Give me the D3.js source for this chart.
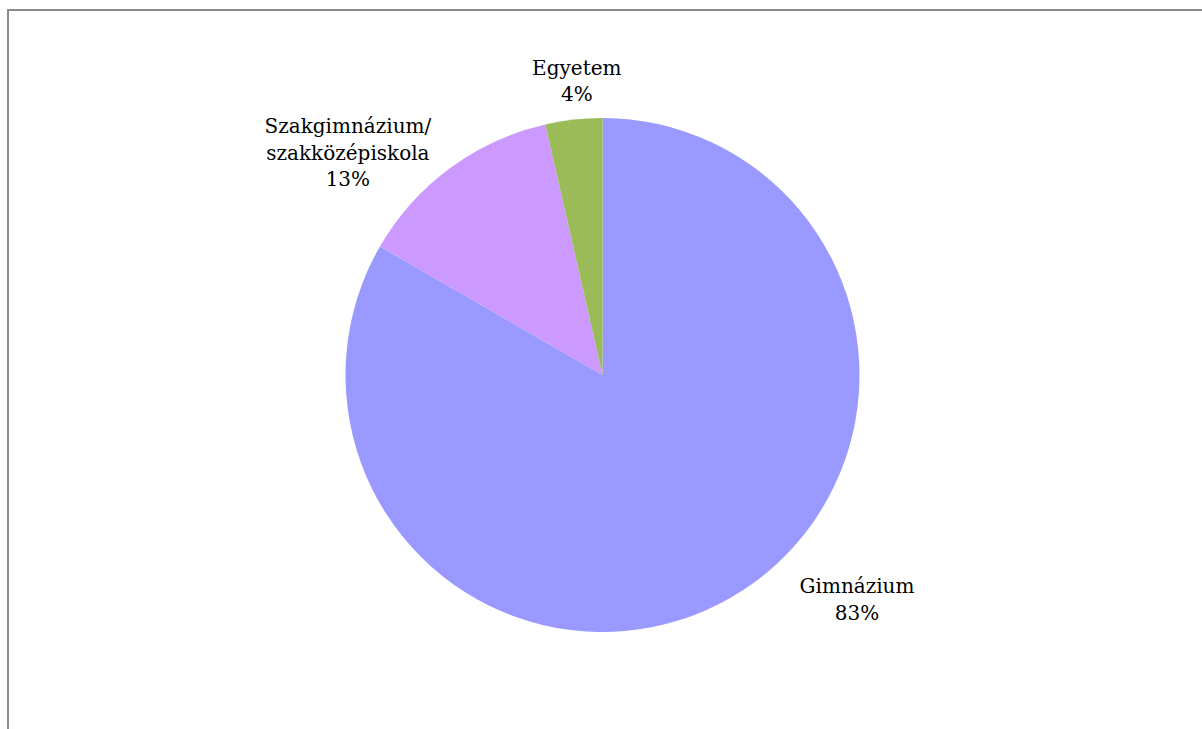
<!DOCTYPE html>
<html>
<head>
<meta charset="utf-8">
<script src="https://cdn.jsdelivr.net/npm/d3@7"></script>
<style>
  body { margin: 0; background: #fff; }
</style>
</head>
<body>
<div id="chart"></div>
<script>
// data: school type of respondents (counts)
const categories = ["Gimnázium", "Szakgimnázium/szakközépiskola", "Egyetem"];
const counts = [70, 11, 3];
const colors = ["#9999FF", "#CC99FF", "#9BBB59"];

const width = 1202, height = 729;
const cx = 602.5, cy = 375, radius = 257;
// label placement: point on mid angle at labelRadius, then nudge (center x, first baseline)
const labelRadius = 300;
const labelNudge = [[104.5, -41.8], [-76.5, -0.5], [7.9, -1.9]];
const lineStep = 26.5;

const svg = d3.select("#chart").append("svg")
    .attr("width", width)
    .attr("height", height);

// frame (only top and left edges are visible in the shot)
svg.append("rect")
    .attr("x", 8).attr("y", 10)
    .attr("width", width + 20).attr("height", height + 20)
    .attr("fill", "none")
    .attr("stroke", "#8a8a8a")
    .attr("stroke-width", 2);

const total = d3.sum(counts);
const pie = d3.pie().sort(null).value(d => d.value);
const arcs = pie(categories.map((c, i) => ({name: c, value: counts[i], color: colors[i], i: i})));

const arc = d3.arc().innerRadius(0).outerRadius(radius);

const g = svg.append("g").attr("transform", "translate(" + cx + "," + cy + ")");

g.selectAll(".slice")
    .data(arcs)
    .enter().append("path")
    .attr("class", "slice")
    .attr("d", arc)
    .attr("fill", d => d.data.color);

const labels = g.selectAll(".label")
    .data(arcs)
    .enter().append("text")
    .attr("class", "label")
    .attr("text-anchor", "middle")
    .style("font-family", "'DejaVu Serif', serif")
    .style("font-size", "20px")
    .attr("fill", "#000")
    .attr("transform", d => {
        let a = (d.startAngle + d.endAngle) / 2;
        let n = labelNudge[d.data.i];
        let x = Math.sin(a) * labelRadius + n[0];
        let y = -Math.cos(a) * labelRadius + n[1];
        return "translate(" + x + "," + y + ")";
    });

labels.each(function(d) {
    let lines = d.data.name.split("/");
    if (lines.length > 1) lines = [lines[0] + "/", lines[1]];
    lines.push(Math.round(d.data.value / total * 100) + "%");
    let t = d3.select(this);
    lines.forEach((l, k) => {
        t.append("tspan")
            .attr("x", 0)
            .attr("y", k * lineStep)
            .text(l);
    });
});
</script>
</body>
</html>
